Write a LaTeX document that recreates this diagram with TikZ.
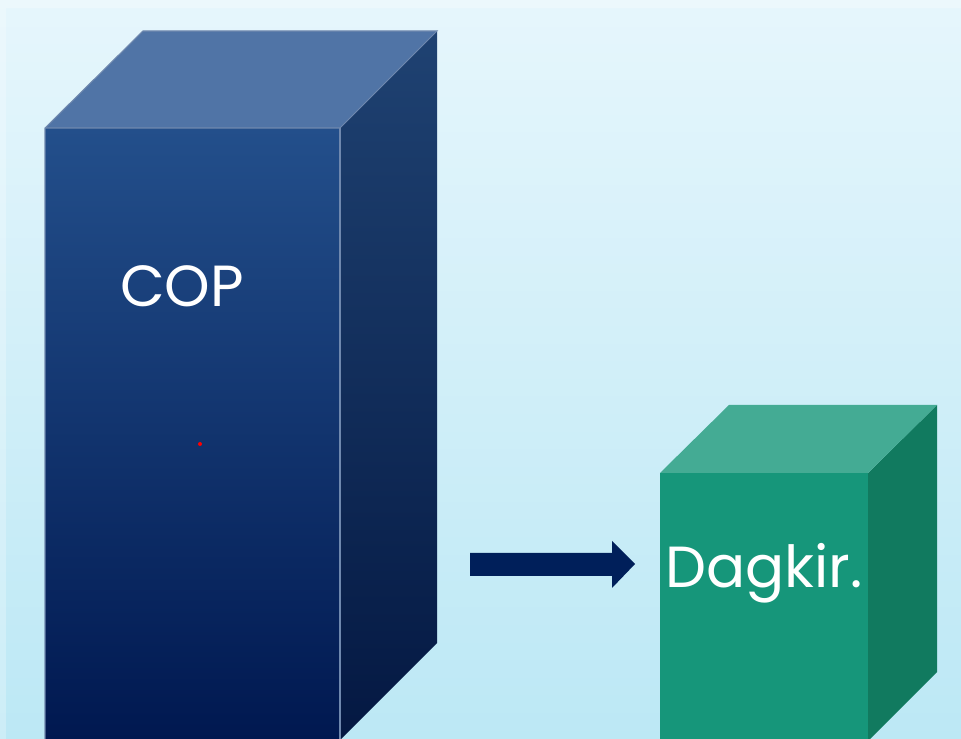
\documentclass[tikz,border=0pt]{standalone}
\usepackage{fontspec}
\setmainfont{Poppins}
\usetikzlibrary{positioning}

\definecolor{bgtop}{HTML}{E6F6FC}
\definecolor{bgbot}{HTML}{BCE8F5}
\definecolor{frontT}{HTML}{234F8B}
\definecolor{frontB}{HTML}{001850}
\definecolor{topface}{HTML}{5074A6}
\definecolor{sideT}{HTML}{1F4272}
\definecolor{sideB}{HTML}{041842}
\definecolor{edge}{HTML}{6F88AE}
\definecolor{gfront}{HTML}{16967A}
\definecolor{gtop}{HTML}{44AB94}
\definecolor{gside}{HTML}{117A5F}
\definecolor{navy}{HTML}{001F5A}

\begin{document}
\begin{tikzpicture}[x=0.02cm, y=-0.02cm,
    label/.style={text=white, font=\fontsize{33}{36}\selectfont, inner sep=0pt}]
    \coordinate (extr) at (961, 739);
    \shade[top color=bgtop, bottom color=bgbot] (0, 0) rectangle (extr);
    \fill[white, opacity=0.25] (0, 0) rectangle (961, 8);
    \fill[white, opacity=0.25] (0, 8) rectangle (6, 739);
    \useasboundingbox (0, 0) rectangle (extr);

    % Corners of the tall box
    \coordinate (A) at (45, 128);
    \coordinate (B) at (340, 128);
    \coordinate (C) at (143, 31);
    \coordinate (D) at (437, 31);
    \coordinate (E) at (437, 643);
    \coordinate (F) at (340, 740);
    \coordinate (G) at (45, 740);

    % Corners of the small box
    \coordinate (H) at (660, 473);
    \coordinate (I) at (868, 473);
    \coordinate (J) at (729, 405);
    \coordinate (K) at (937, 405);
    \coordinate (L) at (937, 672);
    \coordinate (M) at (868, 741);
    \coordinate (N) at (660, 741);

    % Drawing the tall box
    \shade[top color=frontT, bottom color=frontB] (A) -- (B) -- (F) -- (G) -- cycle;
    \shade[top color=sideT, bottom color=sideB] (B) -- (D) -- (E) -- (F) -- cycle;
    \fill[topface] (A) -- (C) -- (D) -- (B) -- cycle;
    \draw[edge, line width=0.6pt] (G) -- (A) -- (C) -- (D) -- (B) -- (A);
    \draw[edge, line width=0.6pt] (B) -- (F);

    % Drawing the small box
    \fill[gfront] (H) -- (I) -- (M) -- (N) -- cycle;
    \fill[gside] (I) -- (K) -- (L) -- (M) -- cycle;
    \fill[gtop] (H) -- (J) -- (K) -- (I) -- cycle;

    % Block arrow
    \fill[navy] (470, 553) -- (612, 553) -- (612, 541) -- (635, 564)
      -- (612, 588) -- (612, 576) -- (470, 576) -- cycle;

    \fill[red] (200, 444) circle (2);

    \node[label] (cop) at (182, 286) {COP};
    \node[label] (dagkir) at (764, 573) {Dagkir.};
  \end{tikzpicture}
\end{document}
